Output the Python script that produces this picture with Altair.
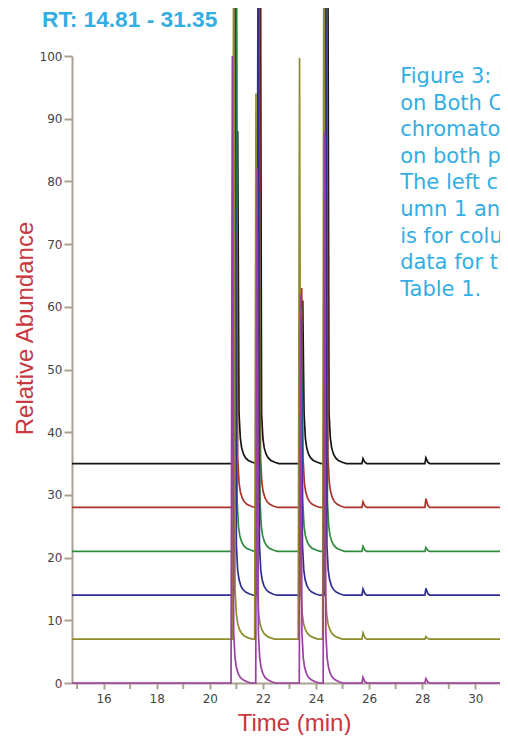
import altair as alt
import pandas as pd

# ---------------- data ----------------
X_START, X_END = 14.81, 31.35
X_VIEW_END = 30.93  # right edge of the visible plot

TRACE_NAMES = ["Run 1", "Run 2", "Run 3", "Run 4", "Run 5", "Run 6"]  # bottom -> top
TRACE_OFFSETS = [0, 7, 14, 21, 28, 35]
TRACE_COLORS = ["#9c3fa3", "#8e8c2b", "#2f2f92", "#2f8c3c", "#ab3129", "#141414"]

# retention times (min) of the four main peaks in each trace
PEAK_TIMES = [
    [20.85, 21.78, 23.42, 24.32],
    [20.90, 21.74, 23.38, 24.30],
    [20.95, 21.82, 23.44, 24.36],
    [20.98, 21.84, 23.45, 24.38],
    [21.00, 21.86, 23.46, 24.40],
    [21.05, 21.90, 23.50, 24.44],
]
# apex values (relative abundance, as plotted)
PEAK_TOPS = [
    [100.0, 82.0, 62.0, 88.0],
    [130.0, 94.0, 99.7, 130.0],
    [130.0, 130.0, 58.0, 130.0],
    [130.0, 130.0, 60.0, 130.0],
    [130.0, 130.0, 63.0, 130.0],
    [88.0, 130.0, 61.0, 130.0],
]
# tailing profile after each apex: minutes after apex, height above the trace baseline
TAIL_DT = [0.05, 0.10, 0.15, 0.22, 0.30, 0.40, 0.55, 0.70]
TAIL_RISE = [8.0, 4.0, 2.5, 1.5, 0.9, 0.5, 0.2, 0.0]

# small late peaks
MINOR_TIMES = [25.77, 28.14]
MINOR_TOPS = [
    [0.9, 0.7],
    [1.0, 0.4],
    [1.0, 1.1],
    [0.8, 0.6],
    [0.9, 1.4],
    [0.8, 0.9],
]

NOTE_LINES = [
    "Figure 3: Reproducibility",
    "on Both Columns. Six",
    "chromatograms of the sample",
    "on both phases are shown.",
    "The left chromatogram is col-",
    "umn 1 and the right one",
    "is for column 2. Retention",
    "data for these runs are in",
    "Table 1.",
]

Y_TICKS = list(range(0, 101, 5))
X_MAJOR = list(range(16, 31, 2))
X_MINOR = list(range(15, 31, 2))

# ---------------- build the table ----------------
rows = []
for i, name in enumerate(TRACE_NAMES):
    off = TRACE_OFFSETS[i]
    pts = [(X_START, off)]
    times = PEAK_TIMES[i]
    for k, t in enumerate(times):
        pts.append((t - 0.05, off))
        pts.append((t, PEAK_TOPS[i][k]))
        limit = times[k + 1] - 0.05 if k + 1 < len(times) else 25.5
        for dt, r in zip(TAIL_DT, TAIL_RISE):
            if t + dt < limit:
                pts.append((t + dt, off + r))
    for t, h in zip(MINOR_TIMES, MINOR_TOPS[i]):
        pts += [(t - 0.04, off), (t, off + h), (t + 0.07, off + 0.25 * h), (t + 0.14, off)]
    pts.append((X_VIEW_END, off))
    pts.sort()
    for j, (t, v) in enumerate(pts):
        rows.append({"trace": name, "time": t, "abundance": v, "seq": j, "draw": 5 - i})

df = pd.DataFrame(rows).sort_values(["draw", "seq"])  # top trace first, purple drawn last
minor_df = pd.DataFrame({"time": X_MINOR})

CYAN = "#33aee4"
RED = "#c8363f"
AXIS = "#aba190"

x_scale = alt.Scale(domain=[X_START, X_VIEW_END], nice=False, zero=False)

x_axis = alt.Axis(
    values=X_MAJOR,
    format="d",
    labelOverlap=False,
    grid=False,
    domainColor=AXIS,
    domainWidth=2,
    tickColor=AXIS,
    tickWidth=2,
    tickSize=6,
    labelFont="DejaVu Sans",
    labelFontSize=12,
    labelColor="#444444",
    labelPadding=4,
    title="Time (min)",
    titleFont="Liberation Sans",
    titleFontSize=24,
    titleFontWeight="normal",
    titleColor=RED,
    titleX=222,
    titleY=47,
    titleAnchor="middle",
    titleAlign="center",
    titleBaseline="alphabetic",
)

y_axis = alt.Axis(
    values=Y_TICKS,
    grid=False,
    domainColor=AXIS,
    domainWidth=2,
    tickColor=AXIS,
    tickWidth=2,
    tickSize=8,
    labelFont="DejaVu Sans",
    labelFontSize=12,
    labelColor="#444444",
    labelPadding=2,
    title="Relative Abundance",
    titleFont="Liberation Sans",
    titleFontSize=24,
    titleFontWeight="normal",
    titleColor=RED,
    titleAngle=270,
    titleX=-40,
    titleY=272,
    titleAlign="center",
    titleBaseline="alphabetic",
)

lines = alt.Chart(df).mark_line(strokeWidth=1.7).encode(
    x=alt.X("time:Q", scale=x_scale, axis=x_axis),
    y=alt.Y("abundance:Q", scale=alt.Scale(domain=[0, 100], nice=False, zero=False), axis=y_axis),
    color=alt.Color("trace:N", scale=alt.Scale(domain=TRACE_NAMES, range=TRACE_COLORS), legend=None),
    detail="draw:O",
    order="seq:Q",
)

minor_ticks = alt.Chart(minor_df).mark_rule(color=AXIS, strokeWidth=2).encode(
    x=alt.X("time:Q", scale=x_scale),
    y=alt.value(627),
    y2=alt.value(633),
)

rt_title = alt.Chart().mark_text(
    text="RT: 14.81 - 31.35",
    font="Liberation Sans",
    fontSize=22.7,
    fontWeight="bold",
    color=CYAN,
    align="left",
    baseline="alphabetic",
).encode(x=alt.value(-30), y=alt.value(-29))

note = alt.Chart().mark_text(
    text=NOTE_LINES,
    font="DejaVu Sans",
    fontSize=21,
    color=CYAN,
    align="left",
    baseline="alphabetic",
    lineHeight=26.6,
).encode(x=alt.datum(27.17), y=alt.datum(95.7))

chart = alt.layer(minor_ticks, lines, rt_title, note).properties(
    width=428,
    height=627,
    autosize=alt.AutoSizeParams(type="none"),
    padding={"left": 64, "top": 48, "right": 0, "bottom": 52},
).configure_view(stroke=None)

chart.save("out.html", embed_options={"renderer": "svg", "actions": False})
